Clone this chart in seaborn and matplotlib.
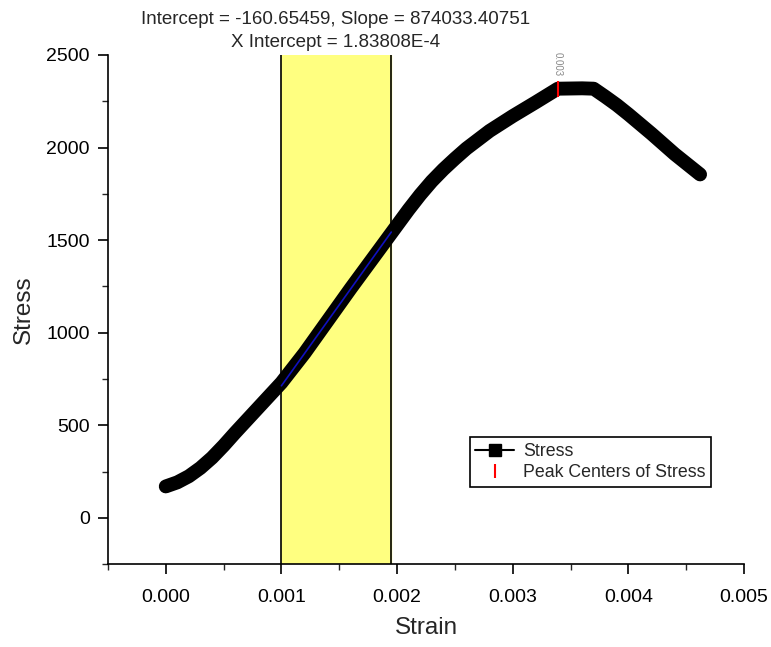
import matplotlib
matplotlib.use("Agg")
import matplotlib.pyplot as plt
import seaborn as sns
import numpy as np
import pandas as pd
from matplotlib.ticker import MultipleLocator
from matplotlib.lines import Line2D

strain = [0.0000, 0.0001, 0.0002, 0.0003, 0.0004, 0.0005, 0.0006, 0.0008,
          0.0010, 0.0012, 0.0014, 0.0016, 0.0018, 0.0020, 0.0021, 0.0022,
          0.0023, 0.0024, 0.0025, 0.0026, 0.0028, 0.0030, 0.0032, 0.00339,
          0.0036, 0.0037, 0.0038, 0.0039, 0.0040, 0.0042, 0.0044, 0.00462]
stress = [170, 192, 225, 270, 325, 390, 460, 595,
          730, 890, 1065, 1240, 1410, 1580, 1665, 1745,
          1818, 1882, 1940, 1995, 2090, 2170, 2245, 2318,
          2320, 2318, 2275, 2230, 2180, 2075, 1965, 1855]

intercept = -160.65459
slope = 874033.40751
fit_range = [0.0010, 0.00195]
peak_x = [0.00339]
peak_y = [2318]

sns.set_theme(style="ticks")
plt.rcParams['font.family'] = ['Liberation Sans', 'DejaVu Sans']

fig = plt.figure(figsize=(7.71, 6.47), dpi=100)
ax = fig.add_axes([0.140, 0.128, 0.825, 0.787])

ax.axvspan(fit_range[0], fit_range[1], color="#ffff80", zorder=0)
for xv in fit_range:
    ax.axvline(xv, color="black", lw=1.2, zorder=1)

df = pd.DataFrame({"Strain": strain, "Stress": stress})
sns.lineplot(data=df, x="Strain", y="Stress", ax=ax, color="black", lw=10,
             solid_capstyle="round", solid_joinstyle="round", zorder=2, sort=False)

fx = np.array(fit_range)
ax.plot(fx, intercept + slope * fx, color="#1010c0", lw=1.2, zorder=3)

ax.plot(peak_x, peak_y, marker="|", color="red", ms=12, mew=1.5, ls="none", zorder=4)
ax.text(peak_x[0], 2385, "0.003", rotation=270, fontsize=7, color="#888888",
        ha="center", va="bottom")

ax.set_xlim(-0.0005, 0.005)
ax.set_ylim(-250, 2500)
ax.xaxis.set_minor_locator(MultipleLocator(0.0005))
ax.yaxis.set_major_locator(MultipleLocator(500))
ax.yaxis.set_minor_locator(MultipleLocator(250))
ax.set_xticks([0, 0.001, 0.002, 0.003, 0.004, 0.005])
ax.set_xticklabels(["0.000", "0.001", "0.002", "0.003", "0.004", "0.005"])
ax.tick_params(which="major", direction="out", length=7, width=1.2, labelsize=14, colors="black")
ax.tick_params(which="minor", direction="out", length=4, width=1.0)
ax.tick_params(axis="x", which="major", pad=11)
ax.tick_params(axis="y", which="major", pad=6)
for s in ["top", "right"]:
    ax.spines[s].set_visible(False)
for s in ["left", "bottom"]:
    ax.spines[s].set_linewidth(1.2)
    ax.spines[s].set_color("black")

ax.set_xlabel("Strain", fontsize=17.5, labelpad=8)
ax.set_ylabel("Stress", fontsize=17.5, labelpad=8)

fig.text(336 / 771, 1 - 31 / 647,
         "Intercept = -160.65459, Slope = 874033.40751\nX Intercept = 1.83808E-4",
         ha="center", va="center", fontsize=13.5, linespacing=1.5)

handles = [Line2D([0], [0], color="black", lw=1.5, marker="s", ms=8),
           Line2D([0], [0], color="red", marker="|", ls="none", ms=10, mew=1.5)]
leg = ax.legend(handles, ["Stress", "Peak Centers of Stress"], loc="upper left",
                bbox_to_anchor=(0.569, 0.249), fontsize=12.8, frameon=True,
                fancybox=False, edgecolor="black", framealpha=1,
                handlelength=2.2, borderpad=0.3, labelspacing=0.25,
                handletextpad=0.5, borderaxespad=0)
leg.get_frame().set_linewidth(1.2)

fig.savefig("out.png", dpi=100)
